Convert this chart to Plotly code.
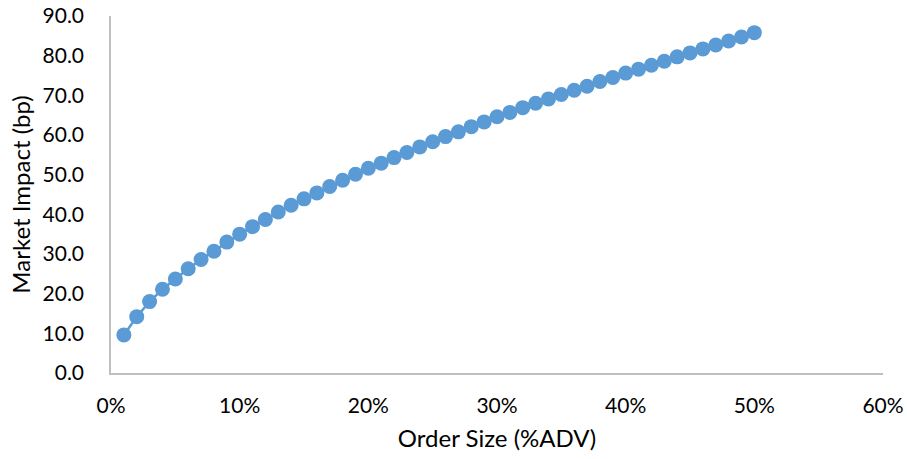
import plotly.graph_objects as go

# Order size as a fraction of average daily volume (1% .. 50%)
order_size = [i / 100 for i in range(1, 51)]

# Estimated market impact in basis points
market_impact = [
    9.6, 14.2, 18.0, 21.1, 23.7, 26.3, 28.6, 30.7, 33.0, 35.0,
    36.9, 38.7, 40.6, 42.3, 43.9, 45.4, 47.0, 48.6, 50.1, 51.6,
    52.9, 54.3, 55.6, 57.0, 58.3, 59.6, 60.8, 62.1, 63.3, 64.6,
    65.7, 66.9, 68.0, 69.1, 70.2, 71.3, 72.3, 73.5, 74.5, 75.6,
    76.6, 77.6, 78.6, 79.7, 80.7, 81.7, 82.7, 83.7, 84.7, 85.8,
]

x_ticks = [0, 0.1, 0.2, 0.3, 0.4, 0.5, 0.6]
y_ticks = [0, 10, 20, 30, 40, 50, 60, 70, 80, 90]

blue = "#5B9BD5"
axis_gray = "#BFBFBF"
font_family = "Lato, 'Open Sans', sans-serif"

fig = go.Figure(
    go.Scatter(
        x=order_size,
        y=market_impact,
        mode="lines+markers",
        line=dict(color=blue, width=2.5),
        marker=dict(color=blue, size=15),
        showlegend=False,
    )
)

fig.update_layout(
    width=907,
    height=459,
    margin=dict(l=111, r=24, t=16, b=86),
    plot_bgcolor="white",
    paper_bgcolor="white",
    font=dict(family=font_family, size=21, color="#000000"),
)

fig.update_xaxes(
    range=[0, 0.6],
    tickvals=x_ticks,
    tickformat=".0%",
    automargin=False,
    showgrid=False,
    zeroline=False,
    showline=True,
    linecolor=axis_gray,
    linewidth=1.5,
    ticks="",
    ticklabelstandoff=13,
    title=dict(text="Order Size (%ADV)", font=dict(size=24), standoff=14),
)

fig.update_yaxes(
    range=[0, 90],
    tickvals=y_ticks,
    tickformat=".1f",
    automargin=False,
    showgrid=False,
    zeroline=False,
    showline=True,
    linecolor=axis_gray,
    linewidth=1.5,
    ticks="",
    ticklabelstandoff=21,
    title=dict(text="Market Impact (bp)", font=dict(size=24), standoff=5),
)

fig.write_html("out.html")
